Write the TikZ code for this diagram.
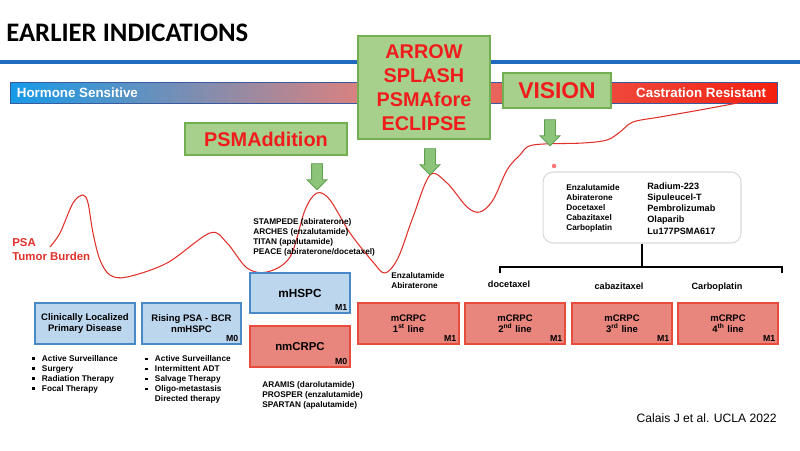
\documentclass[tikz,border=0pt]{standalone}
\usepackage{fontspec}
\setmainfont{Liberation Sans}
\newfontfamily\titlefont{Carlito}
\usetikzlibrary{shapes.arrows}

\definecolor{topblue}{HTML}{1F6CBF}
\definecolor{hsblue}{HTML}{169BE8}
\definecolor{hssalmon}{HTML}{E4807A}
\definecolor{crred}{HTML}{F5200F}
\definecolor{barline}{HTML}{3A5AA0}
\definecolor{grnfill}{HTML}{A8D08D}
\definecolor{grnline}{HTML}{72AE52}
\definecolor{arrfill}{HTML}{8CC57A}
\definecolor{arrline}{HTML}{5FA050}
\definecolor{trialred}{HTML}{F01C1C}
\definecolor{curvered}{HTML}{E0302A}
\definecolor{blufill}{HTML}{BCD6EE}
\definecolor{bluline}{HTML}{4A89C8}
\definecolor{redfill}{HTML}{E8857C}
\definecolor{redline}{HTML}{E84C3C}

\pgfdeclarehorizontalshading{stagebar}{100bp}{color(0bp)=(hsblue); color(25bp)=(hsblue); color(49bp)=(hssalmon); color(75bp)=(crred); color(100bp)=(crred)}

\newcommand{\sqb}{\rule[0.3ex]{0.6ex}{0.6ex}}

\tikzset{
  trialbox/.style={draw=grnline, fill=grnfill, line width=0.7pt, text=trialred, align=center, inner sep=0pt},
  pointer/.style={single arrow, shape border rotate=270, draw=arrline, fill=arrfill, line width=0.5pt,
    minimum height=0.52cm, single arrow head extend=0.09cm, inner sep=0.1cm},
  stagebox/.style={minimum width=2cm, minimum height=0.82cm, line width=0.6pt, align=center, inner sep=0pt,
    font=\bfseries\fontsize{5.4}{6.4}\selectfont},
  hsbox/.style={stagebox, draw=bluline, fill=blufill},
  crbox/.style={stagebox, draw=redline, fill=redfill},
  mtag/.style={anchor=south east, font=\bfseries\fontsize{5}{5}\selectfont, inner sep=1.6pt},
  smalltext/.style={font=\bfseries\fontsize{4.7}{5.7}\selectfont, align=left, inner sep=0pt},
}

\begin{document}
\begin{tikzpicture}[x=0.02cm, y=-0.02cm]
\useasboundingbox (0,0) rectangle (800,450);

% title and rule
\node[anchor=west, inner sep=0pt, font=\titlefont\bfseries\fontsize{15.2}{16}\selectfont] (title) at (6,33) {EARLIER INDICATIONS};
\draw[topblue, line width=2.2pt] (0,62) -- (800,62);

% hormone sensitive -> castration resistant bar
\node[draw=barline, line width=0.4pt, shade, shading=stagebar, minimum width=15.34cm, minimum height=0.42cm, inner sep=0pt] (bar) at (393.5,92.5) {};
\node[anchor=west, text=white, font=\bfseries\fontsize{7.6}{8}\selectfont] (hs) at ([xshift=0.02cm]bar.west) {Hormone Sensitive};
\node[anchor=east, text=white, font=\bfseries\fontsize{7.6}{8}\selectfont] (cr) at ([xshift=-0.1cm]bar.east) {Castration Resistant};

% disease course
\draw[curvered, line width=0.6pt] plot[smooth, tension=0.55] coordinates {(50,247) (60,233) (73,203) (83,195) (88,203) (93,233) (100,260) (110,275) (127,277) (167,263) (210,233) (227,243) (247,268) (267,272) (290,257) (305,210) (317,193) (330,200) (350,233) (373,262) (385,273) (398,258) (413,217) (430,175) (447,183) (467,207) (480,212) (493,200) (507,170) (520,155) (533,145) (583,143) (607,140) (620,132) (633,122) (660,117) (700,110) (743,102)};
\fill[red!55] (554,166) circle (0.045cm);
\node[anchor=west, text=curvered, font=\bfseries\fontsize{6.5}{7.9}\selectfont, align=left, inner sep=0pt] (psa) at (12,250) {PSA\\Tumor Burden};

% PSMA trials
\node[trialbox, minimum width=2.64cm, minimum height=2.06cm, font=\bfseries\fontsize{11.3}{13.6}\selectfont] (arrowbox) at (424,87.5) {ARROW\\SPLASH\\PSMAfore\\ECLIPSE};
\node[trialbox, minimum width=2.16cm, minimum height=0.7cm, font=\bfseries\fontsize{13}{14}\selectfont] (vision) at (557,90.5) {VISION};
\node[trialbox, minimum width=3.24cm, minimum height=0.64cm, font=\bfseries\fontsize{11.3}{12}\selectfont] (psmadd) at (266,139) {PSMAddition};

\node[pointer] (pa1) at (317,174) {};
\node[pointer] (pa2) at (430,159) {};
\node[pointer] (pa3) at (550,130) {};

% trial lists
\node[smalltext, anchor=west] (hstrials) at (253,237) {STAMPEDE (abiraterone)\\ARCHES (enzalutamide)\\TITAN (apalutamide)\\PEACE (abiraterone/docetaxel)};
\node[smalltext, anchor=west] (nmtrials) at (262,395) {ARAMIS (darolutamide)\\PROSPER (enzalutamide)\\SPARTAN (apalutamide)};

% approved drugs
\node[draw=gray!30, line width=0.6pt, rounded corners=0.2cm, minimum width=3.96cm, minimum height=1.42cm] (drugbox) at (642,207.5) {};
\node[smalltext, anchor=west] (drugsa) at (566,208.5) {Enzalutamide\\Abiraterone\\Docetaxel\\Cabazitaxel\\Carboplatin};
\node[smalltext, anchor=west, font=\bfseries\fontsize{5.2}{6.35}\selectfont] (drugsb) at (647,208.5) {Radium-223\\Sipuleucel-T\\Pembrolizumab\\Olaparib\\Lu177PSMA617};

\coordinate (brL) at (500,273);
\coordinate (brR) at (782,273);
\coordinate (brM) at (641,267);
\draw[line width=1.4pt] (brL) -- ++(0,-6) -| (brR);
\draw[line width=1.4pt] (drugbox.south) -- (drugbox.south |- brM);

% disease states
\node[hsbox] (clin) at (85,323.5) {Clinically Localized\\Primary Disease};
\node[hsbox, minimum width=1.98cm] (bcr) at (191.5,323.5) {Rising PSA - BCR\\nmHSPC};
\node[mtag] (bcrtag) at (bcr.south east) {M0};
\node[hsbox, minimum height=0.8cm, font=\bfseries\fontsize{6.7}{7}\selectfont] (mhspc) at (300,293) {mHSPC};
\node[mtag] (mhspctag) at (mhspc.south east) {M1};
\node[crbox, font=\bfseries\fontsize{6.5}{7}\selectfont] (nmcrpc) at (300,346.5) {nmCRPC};
\node[mtag] (nmcrpctag) at (nmcrpc.south east) {M0};

\node[crbox, minimum width=2.02cm] (mcrpc1) at (408.5,323.5) {mCRPC\\1\textsuperscript{st} line};
\node[mtag] (mcrpc1tag) at (mcrpc1.south east) {M1};
\node[crbox] (mcrpc2) at (515,323.5) {mCRPC\\2\textsuperscript{nd} line};
\node[mtag] (mcrpc2tag) at (mcrpc2.south east) {M1};
\node[crbox] (mcrpc3) at (622,323.5) {mCRPC\\3\textsuperscript{rd} line};
\node[mtag] (mcrpc3tag) at (mcrpc3.south east) {M1};
\node[crbox] (mcrpc4) at (728,323.5) {mCRPC\\4\textsuperscript{th} line};
\node[mtag] (mcrpc4tag) at (mcrpc4.south east) {M1};

% treatment per line
\node[smalltext, anchor=west] (line1drugs) at (391,280.5) {Enzalutamide\\Abiraterone};
\node[smalltext, font=\bfseries\fontsize{5.2}{6}\selectfont] (line2drug) at (509,284) {docetaxel};
\node[smalltext, font=\bfseries\fontsize{5.2}{6}\selectfont] (line3drug) at (619,286) {cabazitaxel};
\node[smalltext, font=\bfseries\fontsize{5.2}{6}\selectfont] (line4drug) at (717,287) {Carboplatin};

% options per state
\node[smalltext, anchor=west] (cliniopts) at (32,374) {\sqb\hspace{4pt}Active Surveillance\\\sqb\hspace{4pt}Surgery\\\sqb\hspace{4pt}Radiation Therapy\\\sqb\hspace{4pt}Focal Therapy};
\node[smalltext, anchor=west] (bcropts) at (145,379.5) {\sqb\hspace{4pt}Active Surveillance\\\sqb\hspace{4pt}Intermittent ADT\\\sqb\hspace{4pt}Salvage Therapy\\\sqb\hspace{4pt}Oligo-metastasis\\\phantom{\sqb}\hspace{4pt}Directed therapy};

\node[anchor=east, inner sep=0pt, font=\fontsize{6.9}{8}\selectfont] (cite) at (777,418.5) {Calais J et al. UCLA 2022};
\end{tikzpicture}
\end{document}
